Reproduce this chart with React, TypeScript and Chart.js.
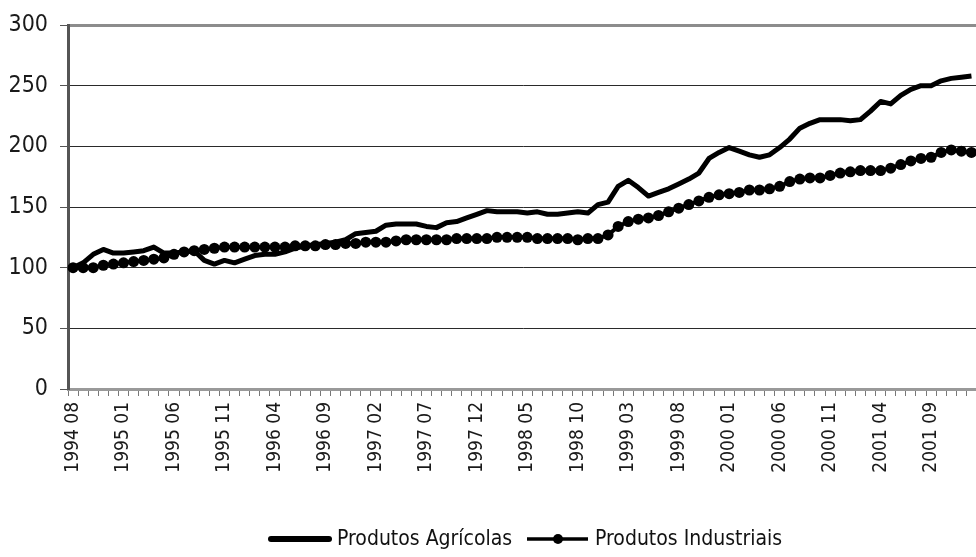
import React, { useEffect, useRef } from "react";
import { Chart, registerables } from "chart.js";

Chart.register(...registerables);

const FONT = "'Liberation Sans Narrow', 'Arial Narrow', 'DejaVu Sans Condensed', sans-serif";

// Monthly categories: 1994 08 .. 2002 01
const firstYear = 1994;
const firstMonth = 8;
const monthCount = 90;
const categories: string[] = (() => {
  const out: string[] = [];
  let y = firstYear;
  let m = firstMonth;
  for (let i = 0; i < monthCount; i++) {
    out.push(`${y} ${String(m).padStart(2, "0")}`);
    m++;
    if (m > 12) {
      m = 1;
      y++;
    }
  }
  return out;
})();

const tickLabels: string[] = [
  "1994 08", "1995 01", "1995 06", "1995 11", "1996 04", "1996 09",
  "1997 02", "1997 07", "1997 12", "1998 05", "1998 10", "1999 03",
  "1999 08", "2000 01", "2000 06", "2000 11", "2001 04", "2001 09",
];

const seriesNames: string[] = ["Produtos Agrícolas", "Produtos Industriais"];

const agricolas: number[] = [
  100, 104, 111, 115, 112, 112, 113, 114, 117, 112,
  112, 113, 114, 106, 103, 106, 104, 107, 110, 111,
  111, 113, 116, 118, 119, 120, 121, 123, 128, 129,
  130, 135, 136, 136, 136, 134, 133, 137, 138, 141,
  144, 147, 146, 146, 146, 145, 146, 144, 144, 145,
  146, 145, 152, 154, 167, 172, 166, 159, 162, 165,
  169, 173, 178, 190, 195, 199, 196, 193, 191, 193,
  199, 206, 215, 219, 222, 222, 222, 221, 222, 229,
  237, 235, 242, 247, 250, 250, 254, 256, 257, 258,
];

const industriais: number[] = [
  100, 100, 100, 102, 103, 104, 105, 106, 107, 108,
  111, 113, 114, 115, 116, 117, 117, 117, 117, 117,
  117, 117, 118, 118, 118, 119, 119, 120, 120, 121,
  121, 121, 122, 123, 123, 123, 123, 123, 124, 124,
  124, 124, 125, 125, 125, 125, 124, 124, 124, 124,
  123, 124, 124, 127, 134, 138, 140, 141, 143, 146,
  149, 152, 155, 158, 160, 161, 162, 164, 164, 165,
  167, 171, 173, 174, 174, 176, 178, 179, 180, 180,
  180, 182, 185, 188, 190, 191, 195, 197, 196, 195,
];

const yMin = 0;
const yMax = 300;
const yStep = 50;

const legendPlugin = {
  id: "customLegend",
  afterDraw(chart: any) {
    const ctx = chart.ctx as CanvasRenderingContext2D;
    ctx.save();
    ctx.font = `21px ${FONT}`;
    ctx.textBaseline = "middle";
    ctx.textAlign = "left";
    const y = 539;
    let x = 268;
    // item 1: thick line
    ctx.strokeStyle = "#000";
    ctx.lineCap = "round";
    ctx.lineWidth = 6;
    ctx.beginPath();
    ctx.moveTo(x + 3, y);
    ctx.lineTo(x + 61, y);
    ctx.stroke();
    x += 69;
    ctx.fillStyle = "#111";
    const t1 = chart.data.datasets[0].label as string;
    ctx.fillText(t1, x, y + 1);
    x = Math.max(x + ctx.measureText(t1).width + 14, 527);
    // item 2: line with dot
    ctx.lineWidth = 3.5;
    ctx.lineCap = "butt";
    ctx.beginPath();
    ctx.moveTo(x, y);
    ctx.lineTo(x + 61, y);
    ctx.stroke();
    ctx.beginPath();
    ctx.arc(x + 31, y, 5, 0, Math.PI * 2);
    ctx.fillStyle = "#000";
    ctx.fill();
    x += 68;
    ctx.fillStyle = "#111";
    const t2 = chart.data.datasets[1].label as string;
    ctx.fillText(t2, x, y + 1);
    ctx.restore();
  },
};

export default function App() {
  const canvasRef = useRef<HTMLCanvasElement | null>(null);

  useEffect(() => {
    if (!canvasRef.current) return;
    const chart = new Chart(canvasRef.current, {
      type: "line",
      data: {
        labels: categories,
        datasets: [
          {
            label: seriesNames[0],
            data: agricolas,
            borderColor: "#000",
            backgroundColor: "#000",
            borderWidth: 5,
            pointRadius: 0,
            tension: 0,
            borderJoinStyle: "round",
          },
          {
            label: seriesNames[1],
            data: industriais,
            borderColor: "#000",
            backgroundColor: "#000",
            borderWidth: 4,
            pointRadius: 5.5,
            pointBorderWidth: 0,
            pointBackgroundColor: "#000",
            tension: 0,
          },
        ],
      },
      options: {
        responsive: false,
        animation: false,
        layout: { padding: { top: 25, right: 0, left: 0, bottom: 0 } },
        plugins: {
          legend: { display: false },
          tooltip: { enabled: false },
        },
        scales: {
          x: {
            type: "category",
            offset: true,
            grid: {
              display: true,
              drawOnChartArea: false,
              drawTicks: true,
              tickLength: 7,
              color: "#777",
              offset: true,
            },
            border: { display: true, color: "#999", width: 3 },
            ticks: {
              autoSkip: false,
              maxRotation: 90,
              minRotation: 90,
              padding: 6,
              color: "#1a1a1a",
              font: { family: FONT, size: 19 },
              callback: (_v: any, idx: number) =>
                tickLabels.includes(categories[idx]) ? categories[idx] : "",
            },
            afterFit: (scale: any) => {
              scale.height = 168;
              scale.paddingRight = 0;
              scale.paddingLeft = 0;
            },
          },
          y: {
            min: yMin,
            max: yMax,
            ticks: {
              stepSize: yStep,
              padding: 12,
              color: "#1a1a1a",
              font: { family: FONT, size: 23 },
            },
            grid: {
              color: (c: any) =>
                c.tick && c.tick.value === yMax
                  ? "#8c8c8c"
                  : c.tick && c.tick.value === yMin
                  ? "rgba(0,0,0,0)"
                  : "#2a2a2a",
              lineWidth: (c: any) => (c.tick && c.tick.value === yMax ? 3 : 1),
              drawTicks: true,
              tickLength: 8,
              tickColor: "#555",
              tickWidth: 1,
            },
            border: { display: true, color: "#555", width: 3 },
            afterFit: (scale: any) => {
              scale.width = 68;
              scale.paddingTop = 0;
              scale.paddingBottom = 0;
            },
          },
        },
      },
      plugins: [legendPlugin],
    });
    return () => chart.destroy();
  }, []);

  return (
    <div
      style={{
        position: "absolute",
        left: 0,
        top: 0,
        width: 976,
        height: 557,
        overflow: "hidden",
        background: "#fff",
      }}
    >
      <canvas ref={canvasRef} width={982} height={557} style={{ display: "block" }} />
    </div>
  );
}
